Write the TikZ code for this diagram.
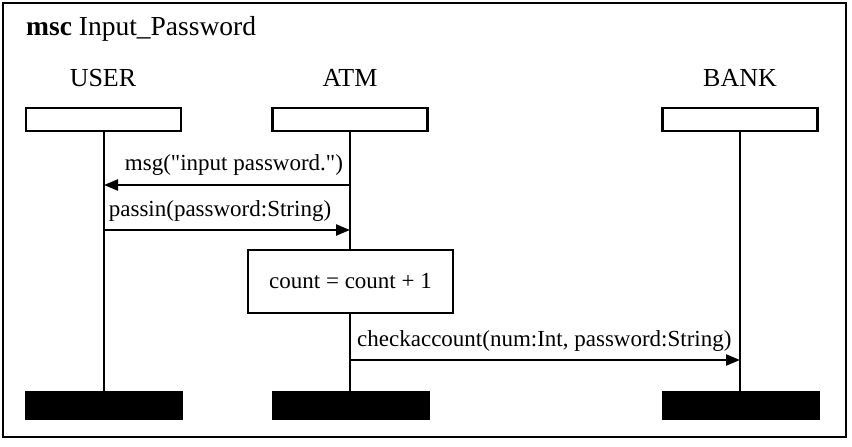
\documentclass[tikz,border=0pt]{standalone}
\usepackage{fontspec}
\setmainfont{Liberation Serif}[Ligatures=TeXOff]
\usetikzlibrary{arrows.meta}
\begin{document}
\begin{tikzpicture}[x=1pt,y=-1pt,
  headbox/.style={draw,line width=2.5pt,minimum width=155pt,minimum height=23pt,inner sep=0pt},
  endbox/.style={fill=black,draw=black,line width=1pt,minimum width=157pt,minimum height=28pt,inner sep=0pt},
  lifelabel/.style={font=\fontsize{26}{28}\selectfont,inner sep=0pt},
  msglabel/.style={font=\fontsize{23}{25}\selectfont,inner sep=0pt},
  actbox/.style={draw,line width=2.5pt,minimum width=205pt,minimum height=63pt,inner sep=0pt,font=\fontsize{23}{25}\selectfont},
  life/.style={line width=2.5pt},
  msg/.style={line width=2.3pt,-{Triangle[length=14pt,width=11pt]}}
]
\useasboundingbox (0,0) rectangle (852,447);
\draw[line width=2.7pt] (3,3) rectangle (846,437);
\node[anchor=base west,inner sep=0pt,font=\fontsize{27.5}{29}\selectfont] (title) at (26,35) {\textbf{msc} Input\_Password};
% lifeline labels
\node[lifelabel,anchor=base] (userL) at (103,86) {USER};
\node[lifelabel,anchor=base] (atmL) at (350,86) {ATM};
\node[lifelabel,anchor=base] (bankL) at (740,86) {BANK};
% heads
\node[headbox] (userH) at (103.5,119.5) {};
\node[headbox] (atmH) at (350,119.5) {};
\node[headbox] (bankH) at (740,119.5) {};
% ends
\node[endbox] (userE) at (104,405.5) {};
\node[endbox] (atmE) at (351,405.5) {};
\node[endbox] (bankE) at (741,405.5) {};
% action
\node[actbox] (act) at (350.5,281.5) {count = count + 1};
% lifelines
\draw[life] (userH.south -| 104,0) -- (userE.north -| 104,0);
\draw[life] (atmH.south -| 350,0) -- (act.north -| 350,0);
\draw[life] (act.south -| 350,0) -- (atmE.north -| 350,0);
\draw[life] (bankH.south -| 740,0) -- (bankE.north -| 740,0);
% message points
\coordinate (m1s) at (350,185);
\coordinate (m1e) at (104,185);
\coordinate (m2s) at (104,230);
\coordinate (m2e) at (350,230);
\coordinate (m3s) at (350,360);
\coordinate (m3e) at (740,360);
\draw[msg] (m1s) -- (m1e);
\draw[msg] (m2s) -- (m2e);
\draw[msg] (m3s) -- (m3e);
\node[msglabel,anchor=base] (l1) at (234,170) {msg("input password.")};
\node[msglabel,anchor=base] (l2) at (220,216) {passin(password:String)};
\node[msglabel,anchor=base west] (l3) at (357,346) {checkaccount(num:Int, password:String)};
\end{tikzpicture}
\end{document}
